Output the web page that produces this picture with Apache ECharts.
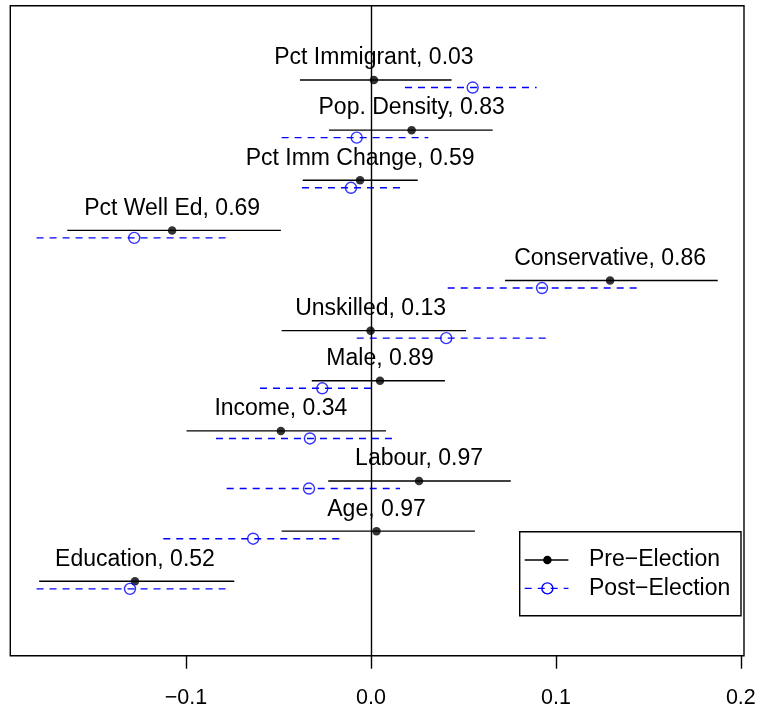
<!DOCTYPE html>
<html>
<head>
<meta charset="utf-8">
<script src="https://cdn.jsdelivr.net/npm/echarts@6/dist/echarts.min.js"></script>
<style>
html,body{margin:0;padding:0;background:#fff;}
#chart{width:761px;height:713px;}
</style>
</head>
<body>
<div id="chart"></div>
<script>
// variables, top to bottom
var names = ['Pct Immigrant','Pop. Density','Pct Imm Change','Pct Well Ed','Conservative','Unskilled','Male','Income','Labour','Age','Education'];
var pValues = ['0.03','0.83','0.59','0.69','0.86','0.13','0.89','0.34','0.97','0.97','0.52'];

// pre-election estimates and intervals
var preEst = [0.0016, 0.0220, -0.0059, -0.1075, 0.1293, -0.0002, 0.0049, -0.0487, 0.0260, 0.0030, -0.1276];
var preLo  = [-0.0384, -0.0227, -0.0369, -0.1642, 0.0725, -0.0483, -0.0320, -0.0997, -0.0231, -0.0483, -0.1794];
var preHi  = [0.0436, 0.0658, 0.0253, -0.0487, 0.1875, 0.0514, 0.0400, 0.0081, 0.0756, 0.0562, -0.0739];

// post-election estimates and intervals
var postEst = [0.0550, -0.0077, -0.0108, -0.1280, 0.0925, 0.0407, -0.0263, -0.0330, -0.0335, -0.0637, -0.1303];
var postLo  = [0.0184, -0.0483, -0.0373, -0.1808, 0.0415, -0.0077, -0.0600, -0.0838, -0.0780, -0.1123, -0.1808];
var postHi  = [0.0896, 0.0310, 0.0166, -0.0763, 0.1450, 0.0945, 0.0030, 0.0120, 0.0157, -0.0168, -0.0780];

var xTicks = [-0.1, 0, 0.1, 0.2];

var FONT = '"Liberation Sans", Arial, Helvetica, sans-serif';
var BLUE = '#0000ff';
var POST_SHIFT = 0.15; // post rows drawn a bit under the pre rows

var n = names.length;
var rowOf = function(i){ return n - i; };

var preSeg = [], postSeg = [], preDot = [], postDot = [], labels = [];
for (var i = 0; i < n; i++) {
    preSeg.push([preLo[i], preHi[i], rowOf(i)]);
    postSeg.push([postLo[i], postHi[i], rowOf(i) - POST_SHIFT]);
    preDot.push([preEst[i], rowOf(i)]);
    postDot.push([postEst[i], rowOf(i) - POST_SHIFT]);
    labels.push([preEst[i], rowOf(i), names[i] + ', ' + pValues[i]]);
}

var segRender = function(color, dash){
    return function(params, api){
        var a = api.coord([api.value(0), api.value(2)]);
        var b = api.coord([api.value(1), api.value(2)]);
        return {
            type: 'line',
            shape: {x1: a[0], y1: a[1], x2: b[0], y2: b[1]},
            style: {stroke: color, lineWidth: 1.4, lineDash: dash}
        };
    };
};

var chart = echarts.init(document.getElementById('chart'));
var option = {
    animation: false,
    backgroundColor: '#fff',
    grid: {
        left: 10.3, right: 17, top: 5.7, bottom: 57.3,
        show: true, borderColor: '#000', borderWidth: 1.4,
        containLabel: false, outerBoundsMode: 'none'
    },
    xAxis: {
        type: 'value',
        min: -0.195, max: 0.2017,
        splitLine: {show: false},
        axisLine: {show: false, onZero: false},
        axisTick: {show: true, inside: false, customValues: xTicks, length: 13, lineStyle: {color: '#000', width: 1.4}},
        axisLabel: {
            customValues: xTicks, margin: 31, color: '#000', fontSize: 21.5, fontFamily: FONT,
            formatter: function(v){ return (v < 0 ? '\u2212' : '') + Math.abs(v).toFixed(1); }
        }
    },
    yAxis: {
        type: 'value', min: -0.484, max: 12.482, show: false
    },
    series: [
        {
            type: 'custom', name: 'Pre-Election',
            renderItem: segRender('#000', null),
            data: preSeg,
            markLine: {
                silent: true, symbol: 'none', label: {show: false},
                lineStyle: {color: '#000', width: 1.4, type: 'solid'},
                data: [{xAxis: 0}]
            },
            z: 2
        },
        {
            type: 'custom', name: 'Post-Election',
            renderItem: segRender(BLUE, [7, 6]),
            data: postSeg,
            z: 2
        },
        {
            type: 'scatter', symbol: 'circle', symbolSize: 8.5,
            itemStyle: {color: '#000'},
            data: preDot, z: 3
        },
        {
            type: 'scatter', symbol: 'circle', symbolSize: 11,
            itemStyle: {color: 'rgba(0,0,0,0)', borderColor: BLUE, borderWidth: 1.4},
            data: postDot, z: 3
        },
        {
            type: 'custom',
            renderItem: function(params, api){
                var p = api.coord([api.value(0), api.value(1)]);
                return {
                    type: 'text',
                    x: p[0], y: p[1] - 22,
                    style: {
                        text: labels[params.dataIndex][2],
                        fill: '#000', fontSize: 23, fontFamily: FONT,
                        align: 'center', verticalAlign: 'middle'
                    }
                };
            },
            data: labels, z: 4
        }
    ],
    graphic: [
        {
            type: 'group', left: 519, top: 531,
            children: [
                {type: 'rect', shape: {x: 0, y: 0, width: 221.3, height: 84}, style: {fill: '#fff', stroke: '#000', lineWidth: 1.4}},
                {type: 'line', shape: {x1: 5, y1: 28.3, x2: 48.7, y2: 28.3}, style: {stroke: '#000', lineWidth: 1.4}},
                {type: 'circle', shape: {cx: 27.7, cy: 28.3, r: 4.25}, style: {fill: '#000'}},
                {type: 'text', x: 69.3, y: 28.3, style: {text: 'Pre\u2212Election', fill: '#000', fontSize: 23, fontFamily: FONT, verticalAlign: 'middle'}},
                {type: 'line', shape: {x1: 5, y1: 56.7, x2: 48.7, y2: 56.7}, style: {stroke: BLUE, lineWidth: 1.4, lineDash: [7, 6]}},
                {type: 'circle', shape: {cx: 27.7, cy: 56.7, r: 5.5}, style: {fill: 'none', stroke: BLUE, lineWidth: 1.4}},
                {type: 'text', x: 69.3, y: 56.7, style: {text: 'Post\u2212Election', fill: '#000', fontSize: 23, fontFamily: FONT, verticalAlign: 'middle'}}
            ]
        }
    ]
};
chart.setOption(option);
</script>
</body>
</html>
